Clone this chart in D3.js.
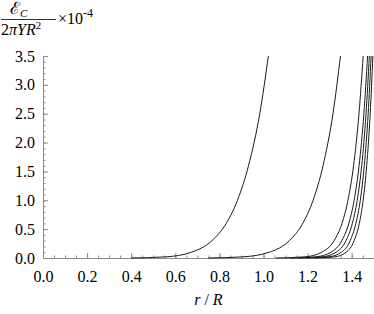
<!DOCTYPE html>
<html lang="en">
<head>
<meta charset="utf-8">
<title></title>
<script src="https://d3js.org/d3.v7.min.js"></script>
<style>
    body{ margin: 0; background: #fff; }
    svg{ display: block; font-family: "Liberation Serif", "Times New Roman", serif; }
    .axis path, .axis line{ stroke: #8c8c8c; stroke-width: 1; }
    .axis text{ font-size: 16px; fill: #000; }
</style>
</head>
<body>
<div id="frame"></div>
<script>
const vLevels = [0, 0.02, 0.1, 0.3, 0.6, 1.0, 1.6, 2.5, 3.5];

const rCurve1 = [0.40, 0.557, 0.673, 0.766, 0.831, 0.882, 0.932, 0.983, 1.022];
const rCurve2 = [0.75, 0.907, 1.026, 1.117, 1.178, 1.225, 1.270, 1.315, 1.349];
const rCurve3 = [1.057, 1.188, 1.264, 1.320, 1.356, 1.383, 1.4085, 1.433, 1.452];
const rCurve4 = [1.118, 1.237, 1.306, 1.355, 1.387, 1.411, 1.4335, 1.4552, 1.472];
const rCurve5 = [1.156, 1.266, 1.329, 1.374, 1.403, 1.425, 1.4454, 1.465, 1.480];
const rCurve6 = [1.196, 1.296, 1.353, 1.393, 1.419, 1.439, 1.457, 1.4747, 1.488];
const rCurve7 = [1.232, 1.3235, 1.375, 1.411, 1.4346, 1.452, 1.468, 1.4839, 1.496];

const xTicks = [0, 0.2, 0.4, 0.6, 0.8, 1.0, 1.2, 1.4];
const yTicks = [0, 0.5, 1.0, 1.5, 2.0, 2.5, 3.0, 3.5];

const curves = [rCurve1, rCurve2, rCurve3, rCurve4, rCurve5, rCurve6, rCurve7];

const w = 374, h = 314;

const x = d3.scaleLinear().domain([0, 1.5]).range([43, 373.75]);
const y = d3.scaleLinear().domain([0, 3.5]).range([258, 56]);

const svg = d3.select("#frame").append("svg")
    .attr("width", w)
    .attr("height", h);

//minor ticks
svg.append("g")
    .attr("class", "axis")
    .attr("transform", "translate(0,258)")
    .call(d3.axisBottom(x).tickValues(d3.range(0, 1.5, 0.05)).tickSize(-2.5).tickFormat(""))
    .select(".domain").remove();

svg.append("g")
    .attr("class", "axis")
    .attr("transform", "translate(43,0)")
    .call(d3.axisLeft(y).tickValues(d3.range(0, 3.5001, 0.1)).tickSize(-2.5).tickFormat(""))
    .select(".domain").remove();

//major ticks + labels
svg.append("g")
    .attr("class", "axis")
    .attr("transform", "translate(0,258)")
    .call(d3.axisBottom(x).tickValues(xTicks).tickSize(-5).tickSizeOuter(0)
        .tickPadding(13).tickFormat(d3.format(".1f")))
    .attr("font-family", "Liberation Serif, serif")
    .attr("font-size", 16);

svg.append("g")
    .attr("class", "axis")
    .attr("transform", "translate(43,0)")
    .call(d3.axisLeft(y).tickValues(yTicks).tickSize(-5).tickSizeOuter(0)
        .tickPadding(8).tickFormat(d3.format(".1f")))
    .attr("font-family", "Liberation Serif, serif")
    .attr("font-size", 16);

//curves
svg.append("clipPath").attr("id", "plot")
    .append("rect")
    .attr("x", 43).attr("y", 55)
    .attr("width", w - 43).attr("height", 204);

const line = d3.line()
    .x(d => x(d[0]))
    .y(d => y(d[1]))
    .curve(d3.curveMonotoneX);

svg.append("g")
    .attr("clip-path", "url(#plot)")
    .selectAll("path")
    .data(curves)
    .enter()
    .append("path")
    .attr("d", d => line(d.map((r, i) => [r, vLevels[i]])))
    .attr("fill", "none")
    .attr("stroke", "#1a1a1a")
    .attr("stroke-width", 1);

//x label
const xl = svg.append("text")
    .attr("x", x(0.75))
    .attr("y", 305)
    .attr("text-anchor", "middle")
    .attr("font-size", 16);
xl.append("tspan").attr("font-style", "italic").text("r");
xl.append("tspan").text(" / ");
xl.append("tspan").attr("font-style", "italic").text("R");

//y label: fraction with x10^-4
const num = svg.append("text")
    .attr("x", 10)
    .attr("y", 14)
    .attr("font-size", 17);
num.append("tspan").text("ℰ");
num.append("tspan").attr("font-size", 11).attr("font-style", "italic").attr("dy", 3).text("C");

svg.append("line")
    .attr("x1", 1).attr("x2", 56)
    .attr("y1", 19.5).attr("y2", 19.5)
    .attr("stroke", "#000")
    .attr("stroke-width", 0.8);

const den = svg.append("text")
    .attr("x", 1)
    .attr("y", 35)
    .attr("font-size", 16);
den.append("tspan").text("2");
den.append("tspan").attr("font-style", "italic").text("πYR");
den.append("tspan").attr("font-size", 11).attr("dy", -6).text("2");

const pow = svg.append("text")
    .attr("x", 58)
    .attr("y", 24)
    .attr("font-size", 16);
pow.append("tspan").text("×10");
pow.append("tspan").attr("font-size", 12).attr("dy", -7).text("-4");
</script>
</body>
</html>
